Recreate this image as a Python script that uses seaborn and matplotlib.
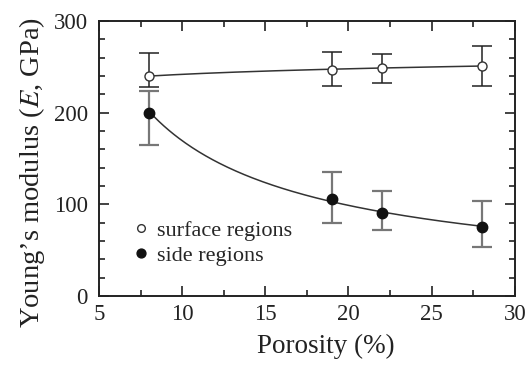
import numpy as np
import pandas as pd
import matplotlib
matplotlib.use("Agg")
import matplotlib.pyplot as plt
import seaborn as sns
from matplotlib.ticker import MultipleLocator

# data
porosity = [8, 19, 22, 28]
surface_E = [240, 247, 249, 251]
surface_lo = [228, 229, 232, 229]
surface_hi = [265, 266, 264, 273]
side_E = [200, 106, 91, 75]
side_lo = [165, 80, 72, 53]
side_hi = [224, 135, 114, 104]

sns.set_style("ticks")
plt.rcParams['font.family'] = ['Liberation Serif', 'DejaVu Serif']
plt.rcParams['mathtext.fontset'] = 'stix'

fig = plt.figure(figsize=(5.28, 3.69), dpi=100)
ax = fig.add_axes([0.1875, 0.198, 0.7875, 0.745])

# power-law fits through the measured points
xf = np.linspace(8, 28, 200)
fits = []
for name, vals in [("surface", surface_E), ("side", side_E)]:
    b, a = np.polyfit(np.log(porosity), np.log(vals), 1)
    fits.append(pd.DataFrame({"x": xf, "y": np.exp(a) * xf ** b, "s": name}))
fit_df = pd.concat(fits)
for name, g in fit_df.groupby("s"):
    sns.lineplot(data=g, x="x", y="y", color="#333333", lw=1.1, ax=ax, legend=False)

ax.errorbar(porosity, side_E,
            yerr=[np.subtract(side_E, side_lo), np.subtract(side_hi, side_E)],
            fmt="none", ecolor="#777777", elinewidth=1.6, capsize=7, capthick=1.6)
ax.errorbar(porosity, surface_E,
            yerr=[np.subtract(surface_E, surface_lo), np.subtract(surface_hi, surface_E)],
            fmt="none", ecolor="#222222", elinewidth=1.1, capsize=7, capthick=1.1)

ax.plot(porosity, surface_E, "o", ms=6.5, mfc="white", mec="#333333", mew=1.0,
        ls="none", label="surface regions")
ax.plot(porosity, side_E, "o", ms=7.5, mfc="#111111", mec="#111111",
        ls="none", label="side regions")

ax.set_xlim(5, 30)
ax.set_ylim(0, 300)
ax.xaxis.set_major_locator(MultipleLocator(5))
ax.xaxis.set_minor_locator(MultipleLocator(2.5))
ax.yaxis.set_major_locator(MultipleLocator(100))
ax.yaxis.set_minor_locator(MultipleLocator(20))
ax.tick_params(which="both", direction="in", top=True, right=True, width=1.2,
               labelsize=16.5, colors="#222222")
ax.tick_params(axis="x", pad=6)
ax.tick_params(axis="y", pad=8)
ax.tick_params(which="major", length=7)
ax.tick_params(which="minor", length=4)
for sp in ax.spines.values():
    sp.set_linewidth(1.4)
    sp.set_color("#222222")

ax.set_xlabel("Porosity (%)", fontsize=19.5, color="#222222", labelpad=6, x=0.546)
ax.set_ylabel("Young\u2019s modulus ($E$, GPa)", fontsize=20.5, color="#222222",
              labelpad=5, y=0.45)

ax.legend(loc="upper left", bbox_to_anchor=(0.07, 0.275), frameon=False,
          fontsize=16, handletextpad=0.1, handlelength=1.2, borderaxespad=0,
          borderpad=0, labelspacing=0.2, markerscale=0.85)

fig.savefig("out.png", dpi=100)
